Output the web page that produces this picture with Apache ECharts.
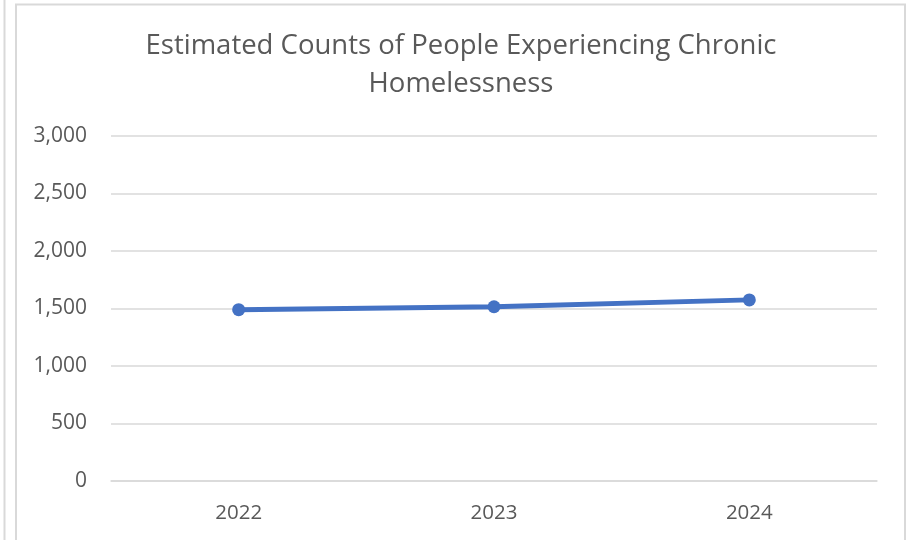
<!DOCTYPE html>
<html>
<head>
<meta charset="utf-8">
<script src="https://cdn.jsdelivr.net/npm/echarts@6/dist/echarts.min.js"></script>
<style>html,body{margin:0;padding:0;background:#fff;}#chart{width:906px;height:540px;}</style>
</head>
<body>
<div id="chart"></div>
<script>
var titleText = 'Estimated Counts of People Experiencing Chronic\nHomelessness';
var years = ['2022', '2023', '2024'];
var counts = [1490, 1515, 1575];
var yTicks = { min: 0, max: 3000, interval: 500 };

var chart = echarts.init(document.getElementById('chart'));
var grey = '#d9d9d9';
var txt = '#595959';
var font = '"Open Sans", "Noto Sans", sans-serif';
chart.setOption({
  animation: false,
  backgroundColor: '#ffffff',
  title: {
    text: titleText,
    left: 461,
    top: 27,
    padding: 0,
    textAlign: 'center',
    textStyle: { color: txt, fontFamily: font, fontSize: 27.5, fontWeight: 'normal', lineHeight: 38 }
  },
  graphic: [
    { type: 'line', shape: { x1: 4.5, y1: 0, x2: 4.5, y2: 540 }, style: { stroke: grey, lineWidth: 2 } },
    { type: 'line', shape: { x1: 16, y1: 4, x2: 16, y2: 540 }, style: { stroke: grey, lineWidth: 2 } },
    { type: 'line', shape: { x1: 15, y1: 4.5, x2: 906, y2: 4.5 }, style: { stroke: grey, lineWidth: 2 } },
    { type: 'line', shape: { x1: 905, y1: 4, x2: 905, y2: 540 }, style: { stroke: grey, lineWidth: 2 } }
  ],
  grid: { left: 111, right: 29, top: 136, bottom: 59, containLabel: false },
  xAxis: {
    type: 'category',
    data: years,
    boundaryGap: true,
    axisLine: { show: true, lineStyle: { color: grey, width: 1.5 } },
    axisTick: { show: false },
    axisLabel: { color: txt, fontFamily: font, fontSize: 20.5, margin: 22 }
  },
  yAxis: {
    type: 'value',
    min: yTicks.min,
    max: yTicks.max,
    interval: yTicks.interval,
    axisLine: { show: false },
    axisTick: { show: false },
    splitLine: { lineStyle: { color: grey, width: 1.5 } },
    axisLabel: {
      color: txt, fontFamily: font, fontSize: 21, margin: 24,
      formatter: function (v) { return v.toLocaleString('en-US'); }
    }
  },
  series: [{
    type: 'line',
    data: counts,
    symbol: 'circle',
    symbolSize: 13,
    lineStyle: { color: '#4472C4', width: 5 },
    itemStyle: { color: '#4472C4' }
  }]
});
</script>
</body>
</html>
